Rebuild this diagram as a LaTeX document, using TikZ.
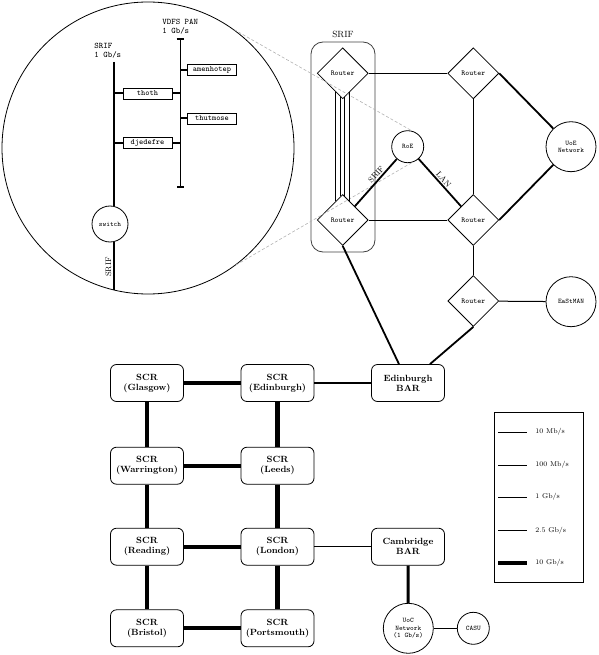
\documentclass[tikz,border=0pt]{standalone}
\usetikzlibrary{shapes.geometric,calc,arrows.meta}

\tikzset{
  router/.style={draw, diamond, minimum width=51pt, minimum height=51pt, inner sep=0pt,
    font=\ttfamily\fontsize{7.5}{8}\selectfont},
  net/.style={draw, circle, inner sep=0pt, align=center,
    font=\ttfamily\fontsize{7}{7.5}\selectfont},
  scr/.style={draw, rounded corners=6pt, minimum width=73pt, minimum height=37pt,
    inner sep=0pt, align=center, font=\bfseries\fontsize{9}{10}\selectfont},
  host/.style={draw, minimum width=49pt, minimum height=11pt, inner sep=0pt,
    font=\ttfamily\fontsize{8}{8}\selectfont},
  busname/.style={align=left, inner sep=0pt, font=\ttfamily\fontsize{8.5}{9}\selectfont},
  linkname/.style={inner sep=1.5pt, font=\fontsize{8}{9}\selectfont},
  zoomline/.style={gray!60, line width=0.6pt, dash pattern=on 3pt off 2pt},
  gigabit/.style={line width=1pt},
  twofive/.style={line width=1.8pt},
  tengig/.style={line width=4.2pt},
  bus/.style={line width=2pt}
}

\begin{document}
\begin{tikzpicture}[x=1pt, y=-1pt, line width=0.8pt]

  % Fix the size of the page
  \useasboundingbox (0,0) rectangle (598,655);

  % Draw the magnified view of the RoE network
  \node[draw, circle, minimum size=292pt, inner sep=0pt] (lens) at (148,148) {};

  % Define the ends of the two buses
  \coordinate (srifTop) at (114,62);
  \coordinate (srifBot) at (114,290);
  \coordinate (vdfsTop) at (180,38);
  \coordinate (vdfsBot) at (180,188);

  % Place the switch and the hosts
  \node[net, minimum size=36pt] (switch) at (110,224) {switch};
  \node[host] (thoth) at (147.5,93.5) {thoth};
  \node[host] (djedefre) at (147.5,143) {djedefre};
  \node[host] (amenhotep) at (212,70) {amenhotep};
  \node[host] (thutmose) at (212,118.5) {thutmose};

  % Draw the buses
  \draw[bus] (srifTop) -- (srifTop |- switch.north);
  \draw[bus] (srifBot |- switch.south) -- (srifBot);
  \draw[gigabit, {Bar[width=7pt,line width=2pt]}-{Bar[width=7pt,line width=2pt]}] (vdfsTop) -- (vdfsBot);

  % Connect the hosts to the buses
  \draw[bus] (thoth.west) -- (thoth.west -| srifTop);
  \draw[bus] (thoth.east) -- (thoth.east -| vdfsTop);
  \draw[bus] (djedefre.west) -- (djedefre.west -| srifTop);
  \draw[bus] (djedefre.east) -- (djedefre.east -| vdfsTop);
  \draw[bus] (amenhotep.west) -- (amenhotep.west -| vdfsTop);
  \draw[bus] (thutmose.west) -- (thutmose.west -| vdfsTop);

  % Add labels for the buses
  \node[busname, anchor=south west] (srifName) at (94,59) {SRIF\\1 Gb/s};
  \node[busname, anchor=south west] (vdfsName) at (162,35) {VDFS PAN\\1 Gb/s};
  \node[linkname, rotate=90] (srifIn) at (108.5,267) {SRIF};

  % Draw the SRIF enclosure
  \draw[darkgray, rounded corners=12pt] (311,42) rectangle (375,252);
  \node[font=\fontsize{9}{10}\selectfont] (srifLabel) at (343,34) {SRIF};

  % Place the routers
  \node[router] (srTop) at (342.7,73.3) {Router};
  \node[router] (srBot) at (342.7,220) {Router};
  \node[router] (rtTop) at (473.3,73.3) {Router};
  \node[router] (rtMid) at (473.3,220) {Router};
  \node[router] (rtLow) at (473.3,301) {Router};

  % Place the networks
  \node[net, minimum size=32pt] (roe) at (407.7,146.7) {RoE};
  \node[net, minimum size=50pt] (uoe) at (571,146.7) {UoE\\Network};
  \node[net, minimum size=50pt] (eastman) at (571,301.7) {EaStMAN};

  % Draw the lines of the magnified view
  \draw[zoomline] (lens.54) -- (roe.75);
  \draw[zoomline] (lens.-53) -- (roe.-75);

  % Place the SuperJANET core
  \node[scr] (glasgow) at (147,383) {SCR\\(Glasgow)};
  \node[scr] (edinburgh) at (277.5,383) {SCR\\(Edinburgh)};
  \node[scr] (edbar) at (408,383) {Edinburgh\\BAR};
  \node[scr] (warrington) at (147,465.7) {SCR\\(Warrington)};
  \node[scr] (leeds) at (277.5,465.7) {SCR\\(Leeds)};
  \node[scr] (reading) at (147,546.7) {SCR\\(Reading)};
  \node[scr] (london) at (277.5,546.7) {SCR\\(London)};
  \node[scr] (cambar) at (408,546.7) {Cambridge\\BAR};
  \node[scr] (bristol) at (147,628.3) {SCR\\(Bristol)};
  \node[scr] (portsmouth) at (277.5,628.3) {SCR\\(Portsmouth)};
  \node[net, minimum size=50pt] (uoc) at (408.3,628.3) {UoC\\Network\\(1 Gb/s)};
  \node[net, minimum size=32pt] (casu) at (473.3,628.3) {CASU};

  % Draw the Edinburgh links
  \draw[gigabit] (srTop) -- (rtTop);
  \foreach \dx in {-6.75,-2.25,2.25,6.75}
    \draw[gigabit] ($(srTop.south)+(\dx,{-abs(\dx)})$) -- ($(srBot.north)+(\dx,{abs(\dx)})$);
  \draw[gigabit] (rtTop) -- (rtMid);
  \draw[twofive] (rtTop.east) -- (uoe);
  \draw[twofive] (rtMid.east) -- (uoe);
  \draw[gigabit] (srBot) -- (rtMid);
  \draw[twofive] (srBot) -- (roe) node[linkname, pos=0.6, sloped, above] (srifLink) {SRIF};
  \draw[twofive] (roe) -- (rtMid) node[linkname, midway, sloped, above] (lanLink) {LAN};
  \draw[gigabit] (rtMid) -- (rtLow);
  \draw[gigabit] (rtLow) -- (eastman);
  \draw[twofive] (srBot.south) -- (edbar);
  \draw[twofive] (rtLow.south) -- (edbar);

  % Draw the core links
  \draw[tengig] (glasgow) -- (edinburgh);
  \draw[tengig] (glasgow) -- (warrington);
  \draw[tengig] (edinburgh) -- (leeds);
  \draw[tengig] (warrington) -- (leeds);
  \draw[tengig] (warrington) -- (reading);
  \draw[tengig] (leeds) -- (london);
  \draw[tengig] (reading) -- (london);
  \draw[tengig] (reading) -- (bristol);
  \draw[tengig] (london) -- (portsmouth);
  \draw[tengig] (bristol) -- (portsmouth);
  \draw[twofive] (edinburgh) -- (edbar);
  \draw[gigabit] (london) -- (cambar);
  \draw[line width=3pt] (cambar) -- (uoc);
  \draw[gigabit] (uoc) -- (casu);

  % Draw the legend
  \node[draw, minimum width=89pt, minimum height=170.5pt] (legend) at (538.7,497.5) {};
  \foreach \y/\w/\rate [count=\i] in {432/0.8/{10 Mb/s}, 465/0.8/{100 Mb/s}, 497/1/{1 Gb/s}, 530.5/1.8/{2.5 Gb/s}, 563/4.2/{10 Gb/s}} {
    \draw[line width=\w pt] (498,\y) -- (527,\y);
    \node[anchor=west, inner sep=0pt, font=\fontsize{7}{8}\selectfont] (rate\i) at (535,\y) {\rate};
  }

\end{tikzpicture}
\end{document}
